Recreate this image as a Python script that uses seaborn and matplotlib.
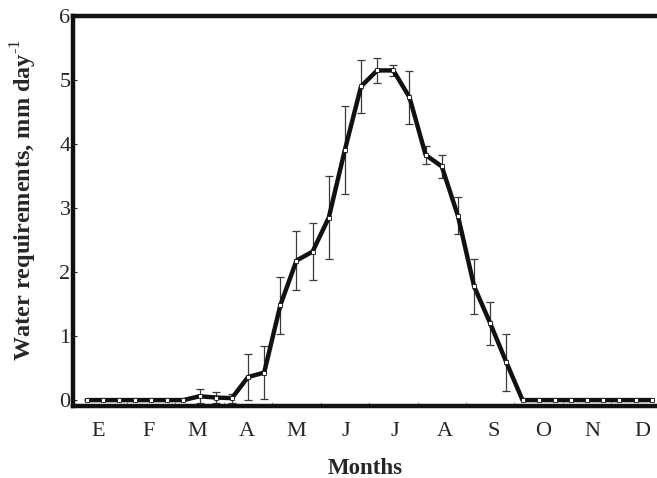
import matplotlib
matplotlib.use("Agg")
import matplotlib.pyplot as plt
import seaborn as sns
import numpy as np
import pandas as pd

months = ["E", "F", "M", "A", "M", "J", "J", "A", "S", "O", "N", "D"]
dekads = list(range(1, 37))
water = [0, 0, 0, 0, 0, 0, 0, 0.06, 0.04, 0.03, 0.36, 0.43,
         1.48, 2.18, 2.32, 2.85, 3.91, 4.90, 5.15, 5.15, 4.73, 3.83, 3.65, 2.88,
         1.78, 1.20, 0.59, 0, 0, 0, 0, 0, 0, 0, 0, 0]
err = [0, 0, 0, 0, 0, 0, 0, 0.11, 0.09, 0.07, 0.36, 0.42,
       0.45, 0.46, 0.45, 0.65, 0.69, 0.41, 0.19, 0.09, 0.41, 0.14, 0.18, 0.29,
       0.43, 0.34, 0.45, 0, 0, 0, 0, 0, 0, 0, 0, 0]
yticks = [0, 1, 2, 3, 4, 5, 6]

df = pd.DataFrame({"dekad": dekads, "water": water, "err": err})

sns.set_style("white")
plt.rcParams["font.family"] = ["Liberation Serif", "DejaVu Serif"]
plt.rcParams["mathtext.fontset"] = "custom"
plt.rcParams["mathtext.rm"] = "Liberation Serif"
plt.rcParams["mathtext.bf"] = "Liberation Serif:bold"

fig = plt.figure(figsize=(6.57, 4.78), dpi=100)
ax = fig.add_axes([0.1116, 0.1496, 1 - 0.1116, 0.9665 - 0.1496])

eb = df[df["err"] > 0]
ax.errorbar(eb["dekad"], eb["water"], yerr=eb["err"], fmt="none",
            ecolor="#3a3a3a", elinewidth=0.9, capsize=3, capthick=0.9, zorder=2)
sns.lineplot(data=df, x="dekad", y="water", ax=ax, color="#111111",
             linewidth=3.2, zorder=3)
ax.plot(df["dekad"], df["water"], linestyle="none", marker="s", markersize=3.2,
        markerfacecolor="white", markeredgecolor="#111111", markeredgewidth=0.6,
        zorder=4)

ax.set_xlim(0.18, 36.33)
ax.set_ylim(-0.1, 6)
ax.set_yticks(yticks)
ax.set_yticklabels([str(v) for v in yticks], fontsize=16)
month_pos = [1.75 + 3.06 * i for i in range(12)]
ax.set_xticks(month_pos)
ax.set_xticklabels(months, fontsize=16)
ax.set_xticks([3.5 + 3 * i for i in range(11)], minor=True)
ax.tick_params(axis="x", which="major", length=0, pad=11)
ax.tick_params(axis="x", which="minor", direction="in", length=3, width=0.6,
               color="#777777", bottom=True)
ax.tick_params(axis="y", which="major", direction="in", length=3, width=0.8,
               pad=2, left=True)
ax.set_xlabel("")
ax.set_ylabel("")

for side in ["left", "top", "bottom"]:
    ax.spines[side].set_visible(True)
    ax.spines[side].set_linewidth(3.2)
    ax.spines[side].set_color("#111111")
ax.spines["right"].set_visible(False)

fig.text(24 / 657, 1 - 200 / 478, "Water requirements, mm day$^{\\mathrm{\u2010}1}$",
         rotation=90, ha="center", va="center", fontsize=17.5, fontweight="bold")
fig.text(365 / 657, 1 - 468 / 478, "Months", ha="center", va="center",
         fontsize=16.5, fontweight="bold")

fig.savefig("out.png", dpi=100)
